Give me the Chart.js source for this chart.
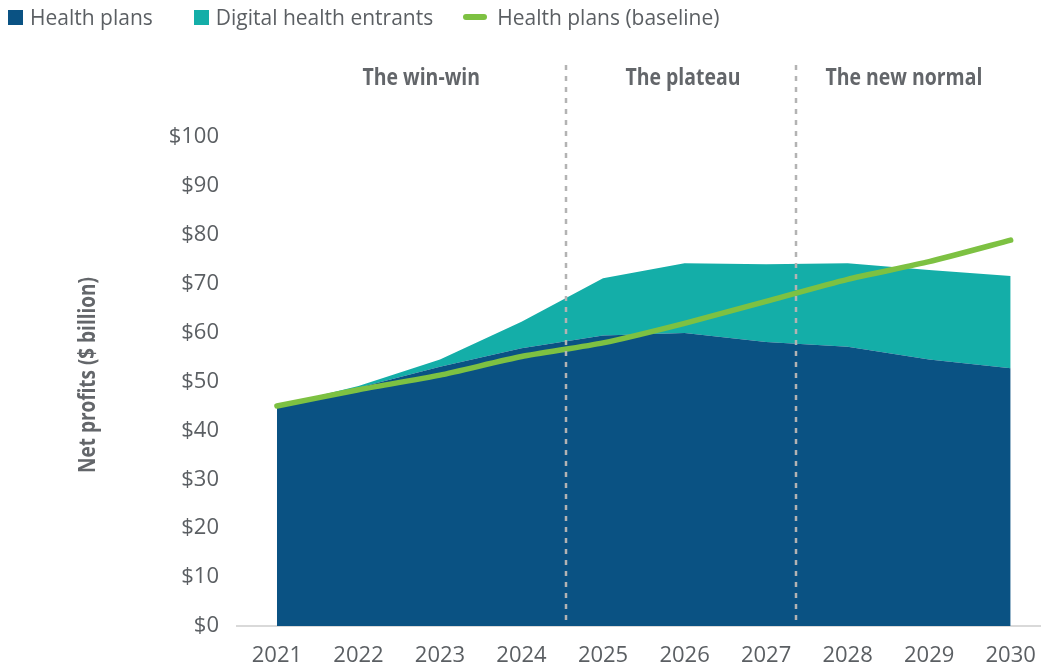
<!DOCTYPE html>
<html>
<head>
<meta charset="utf-8">
<script src="https://cdn.jsdelivr.net/npm/chart.js@4"></script>
<style>
  html, body { margin: 0; padding: 0; background: #fff; }
  #wrap { position: relative; width: 1042px; height: 668px; }
  #profitChart { display: block; }
  #legend { position: absolute; left: 8px; top: 3px; font-family: "Open Sans", sans-serif; font-size: 21px; color: #5b5f63; display: flex; align-items: center; }
  .item { display: flex; align-items: center; }
  .sq { width: 15px; height: 15px; margin-right: 7px; }
  .ln { width: 24px; height: 6px; border-radius: 3px; margin-right: 10px; }
</style>
</head>
<body>
<div id="wrap">
  <canvas id="profitChart" width="1042" height="668"></canvas>
  <div id="legend"></div>
</div>
<script>
// Chart data
const years = [2021, 2022, 2023, 2024, 2025, 2026, 2027, 2028, 2029, 2030];
const healthPlans = [45, 48.7, 53.0, 56.8, 59.4, 59.9, 58.1, 57.1, 54.5, 52.7];
const digitalEntrants = [0, 0.4, 1.5, 5.4, 11.7, 14.3, 15.9, 17.1, 18.3, 18.9];
const baseline = [45, 48.3, 51.3, 55.1, 57.9, 61.9, 66.4, 70.9, 74.5, 78.9];
const yTicks = [0, 10, 20, 30, 40, 50, 60, 70, 80, 90, 100];

// Phases of the market, split between years
const phases = ['The win-win', 'The plateau', 'The new normal'];
const phaseCenters = [2022.77, 2025.98, 2028.69];
const phaseBreaks = [2024.55, 2027.37];

const colors = {
    plans: '#0a5283',
    entrants: '#14aea8',
    baseline: '#7dc142'
};

function toPoints(values) {
    return values.map((v, i) => ({ x: years[i], y: v }));
}

// Legend built in HTML
function buildLegend() {
    const legend = document.getElementById('legend');
    const items = [
        { label: 'Health plans', color: colors.plans, kind: 'sq', gap: 41 },
        { label: 'Digital health entrants', color: colors.entrants, kind: 'sq', gap: 30 },
        { label: 'Health plans (baseline)', color: colors.baseline, kind: 'ln', gap: 0 }
    ];
    items.forEach(item => {
        const el = document.createElement('div');
        el.className = 'item';
        el.style.marginRight = item.gap + 'px';
        el.innerHTML = `<span class="${item.kind}" style="background:${item.color}"></span>${item.label}`;
        legend.appendChild(el);
    });
}

// condensed bold text: Open Sans squeezed sideways
function condensedText(ctx, text, x, y, squeeze) {
    ctx.save();
    ctx.translate(x, y);
    ctx.scale(squeeze, 1);
    ctx.fillText(text, 0, 0);
    ctx.restore();
}

// Draws dividers, phase labels and the y axis title
const overlayPlugin = {
    id: 'overlay',
    afterDatasetsDraw(chart) {
        const ctx = chart.ctx;
        const x = chart.scales.x;
        const area = chart.chartArea;
        ctx.save();
        ctx.strokeStyle = '#b3b3b3';
        ctx.lineWidth = 2.5;
        ctx.setLineDash([5, 6]);
        phaseBreaks.forEach(b => {
            const px = Math.round(x.getPixelForValue(b));
            ctx.beginPath();
            ctx.moveTo(px, 65);
            ctx.lineTo(px, area.bottom);
            ctx.stroke();
        });
        ctx.restore();
    },
    afterDraw(chart) {
        const ctx = chart.ctx;
        const x = chart.scales.x;
        ctx.save();
        ctx.fillStyle = '#63666a';
        ctx.font = 'bold 24px "Open Sans", sans-serif';
        ctx.textAlign = 'center';
        ctx.textBaseline = 'middle';
        phases.forEach((p, i) => {
            condensedText(ctx, p, x.getPixelForValue(phaseCenters[i]), 78, 0.81);
        });
        ctx.translate(88, 375);
        ctx.rotate(-Math.PI / 2);
        condensedText(ctx, 'Net profits ($ billion)', 0, 0, 0.79);
        ctx.restore();
    }
};

function drawChart() {
    const ctx = document.getElementById('profitChart');
    new Chart(ctx, {
        type: 'line',
        data: {
            datasets: [
                {
                    label: 'Health plans',
                    data: toPoints(healthPlans),
                    backgroundColor: colors.plans,
                    borderWidth: 0,
                    pointRadius: 0,
                    fill: 'origin',
                    stack: 'areas',
                    order: 2
                },
                {
                    label: 'Digital health entrants',
                    data: toPoints(digitalEntrants),
                    backgroundColor: colors.entrants,
                    borderWidth: 0,
                    pointRadius: 0,
                    fill: '-1',
                    stack: 'areas',
                    order: 2
                },
                {
                    label: 'Health plans (baseline)',
                    data: toPoints(baseline),
                    borderColor: colors.baseline,
                    borderWidth: 5.5,
                    borderCapStyle: 'round',
                    borderJoinStyle: 'round',
                    pointRadius: 0,
                    fill: false,
                    tension: 0.2,
                    stack: 'baseline',
                    order: 1
                }
            ]
        },
        options: {
            responsive: false,
            animation: false,
            layout: {
                padding: { top: 137, left: 0, right: 2, bottom: 1 }
            },
            scales: {
                x: {
                    type: 'linear',
                    min: 2020.51,
                    max: 2030.36,
                    afterBuildTicks: scale => {
                        scale.ticks = years.map(v => ({ value: v }));
                    },
                    afterFit: scale => {
                        scale.height = 41;
                        scale.paddingLeft = 0;
                        scale.paddingRight = 0;
                    },
                    grid: { display: false, drawTicks: false },
                    border: { display: true, color: '#d9d9d9', width: 2 },
                    ticks: {
                        padding: 17,
                        color: '#5b5f63',
                        font: { family: '"Open Sans", sans-serif', size: 22 },
                        maxRotation: 0,
                        autoSkip: false,
                        callback: value => String(value)
                    }
                },
                y: {
                    stacked: true,
                    min: 0,
                    max: 100,
                    afterBuildTicks: scale => {
                        scale.ticks = yTicks.map(v => ({ value: v }));
                    },
                    afterFit: scale => {
                        scale.width = 237;
                    },
                    grid: { display: false, drawTicks: false },
                    border: { display: false },
                    ticks: {
                        padding: 18,
                        color: '#5b5f63',
                        font: { family: '"Open Sans", sans-serif', size: 22 },
                        callback: value => '$' + value
                    }
                }
            },
            plugins: {
                legend: { display: false },
                tooltip: { enabled: false }
            }
        },
        plugins: [overlayPlugin]
    });
}

buildLegend();
drawChart();
</script>
</body>
</html>
